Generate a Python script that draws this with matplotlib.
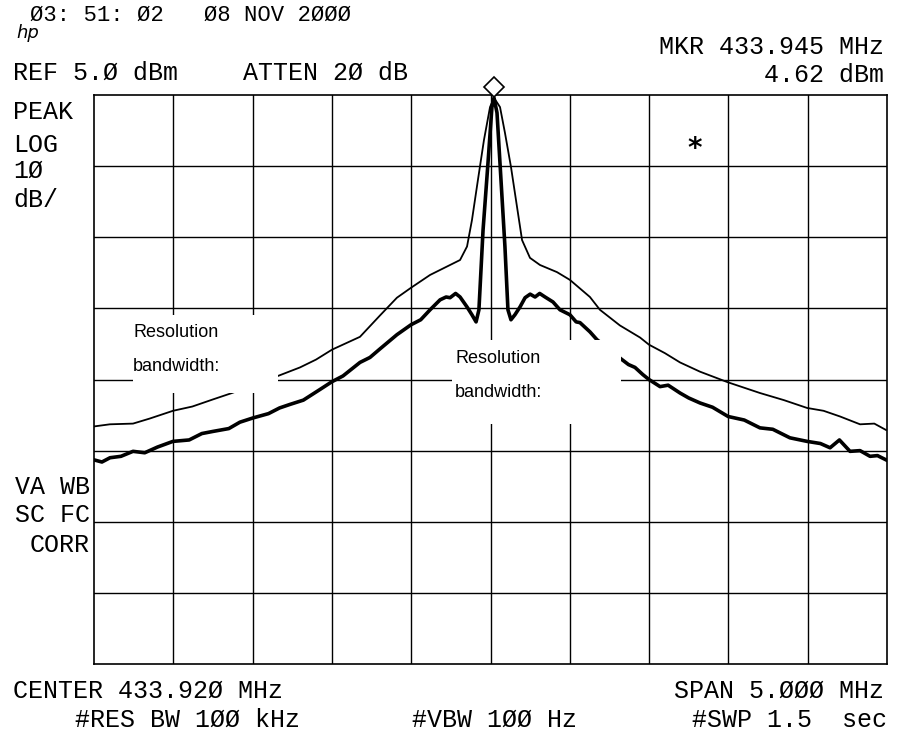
import matplotlib.pyplot as plt
import numpy as np
from matplotlib.patches import Rectangle
from matplotlib import font_manager

# Analyzer settings
center_mhz = 433.920
span_mhz = 5.0
ref_dbm = 5.0
db_per_div = 10
marker_mhz = 433.945
marker_dbm = 4.62

# Thin trace (wide resolution bandwidth), offset from center in MHz / level in dBm
wide_offset = [-2.500, -2.400, -2.254, -2.150, -2.002, -1.880, -1.750, -1.630, -1.340, -1.201,
               -1.100, -0.999, -0.823, -0.697, -0.590, -0.501, -0.381, -0.255, -0.192, -0.148,
               -0.117, -0.079, -0.041, -0.003, 0.022, 0.060, 0.091, 0.129, 0.167, 0.199,
               0.249, 0.312, 0.419, 0.501, 0.627, 0.690, 0.816, 0.943, 0.999, 1.100,
               1.195, 1.321, 1.498, 1.699, 1.850, 1.996, 2.100, 2.204, 2.330, 2.420, 2.494]
wide_level = [-41.6, -41.3, -41.2, -40.5, -39.4, -38.8, -37.8, -36.9, -34.5, -33.3,
              -32.2, -30.8, -29.0, -26.0, -23.5, -22.1, -20.3, -18.9, -18.2, -16.3,
              -12.6, -6.9, -1.3, 3.3, 4.6, 3.3, -0.3, -5.1, -10.7, -15.4,
              -17.9, -18.9, -19.9, -21.0, -23.4, -25.2, -27.4, -29.1, -30.1, -31.3,
              -32.6, -33.9, -35.4, -36.9, -37.9, -39.0, -39.4, -40.2, -41.3, -41.2, -42.1]

# Thick trace (narrow resolution bandwidth)
narrow_offset = [-2.500, -2.450, -2.399, -2.330, -2.254, -2.180, -2.100, -2.002, -1.900, -1.820,
                 -1.750, -1.650, -1.580, -1.497, -1.400, -1.330, -1.264, -1.180, -1.075, -0.999,
                 -0.930, -0.823, -0.760, -0.697, -0.590, -0.501, -0.440, -0.381, -0.318, -0.280,
                 -0.255, -0.220, -0.192, -0.148, -0.117, -0.091, -0.073, -0.047, -0.016, 0.009,
                 0.022, 0.041, 0.066, 0.091, 0.110, 0.129, 0.154, 0.186, 0.218, 0.250,
                 0.281, 0.310, 0.344, 0.394, 0.438, 0.501, 0.540, 0.564, 0.627, 0.671,
                 0.823, 0.870, 0.911, 0.960, 0.999, 1.069, 1.120, 1.195, 1.250, 1.321,
                 1.400, 1.498, 1.600, 1.699, 1.780, 1.888, 1.996, 2.080, 2.141, 2.200,
                 2.267, 2.330, 2.393, 2.440, 2.494]
narrow_level = [-46.3, -46.6, -46.0, -45.8, -45.1, -45.3, -44.5, -43.7, -43.5, -42.6,
                -42.3, -41.9, -41.0, -40.4, -39.8, -39.0, -38.5, -37.9, -36.4, -35.3,
                -34.5, -32.6, -31.9, -30.7, -28.7, -27.3, -26.6, -25.2, -23.8, -23.4,
                -23.5, -22.9, -23.4, -24.8, -25.9, -26.9, -25.2, -14.0, -4.6, 3.3,
                4.6, 2.5, -6.9, -16.3, -25.2, -26.6, -25.9, -24.8, -23.5, -23.0,
                -23.4, -22.9, -23.4, -24.1, -25.2, -25.9, -26.9, -27.0, -28.3, -29.4,
                -32.1, -32.9, -33.3, -34.3, -35.0, -36.0, -35.8, -36.9, -37.6, -38.3,
                -38.9, -40.2, -40.7, -41.8, -42.0, -43.2, -43.7, -44.0, -44.6, -43.5,
                -45.1, -45.0, -45.8, -45.7, -46.3]

# Screen annotations: text, x px, y px, alignment, size
header_texts = [
    ("Ø3: 51: Ø2   Ø8 NOV 2ØØØ", 30, 15, "left", 16),
    ("REF 5.Ø dBm", 13, 73, "left", 18),
    ("ATTEN 2Ø dB", 243, 73, "left", 18),
    ("MKR 433.945 MHz", 884, 47, "right", 18),
    ("4.62 dBm", 884, 75, "right", 18),
    ("PEAK", 13, 112, "left", 18),
    ("LOG", 13, 145, "left", 18),
    ("1Ø", 13, 171, "left", 18),
    ("dB/", 13, 200, "left", 18),
    ("VA WB", 90, 487, "right", 18),
    ("SC FC", 90, 515, "right", 18),
    ("CORR", 90, 545, "right", 18),
    ("CENTER 433.92Ø MHz", 13, 691, "left", 18),
    ("#RES BW 1ØØ kHz", 75, 720, "left", 18),
    ("#VBW 1ØØ Hz", 412, 720, "left", 18),
    ("SPAN 5.ØØØ MHz", 884, 691, "right", 18),
    ("#SWP 1.5  sec", 887, 720, "right", 18),
]

installed = {f.name for f in font_manager.fontManager.ttflist}
label_font = "Liberation Sans Narrow" if "Liberation Sans Narrow" in installed else "Liberation Sans"
label_size = 15 if label_font == "Liberation Sans Narrow" else 13

W, H = 912, 738
fig = plt.figure(figsize=(W / 100, H / 100), dpi=100)
ax = fig.add_axes([94 / W, (H - 664) / H, 793 / W, 569 / H])

f_lo = center_mhz - span_mhz / 2
f_hi = center_mhz + span_mhz / 2
bottom = ref_dbm - 8 * db_per_div
ax.set_xlim(f_lo, f_hi)
ax.set_ylim(bottom, ref_dbm)
ax.set_xticks([])
ax.set_yticks([])
for s in ax.spines.values():
    s.set_linewidth(1.2)
    s.set_color("black")

# graticule
for i in range(1, 10):
    ax.axvline(f_lo + i * span_mhz / 10, color="black", lw=1.0, zorder=1)
for j in range(1, 8):
    ax.axhline(bottom + j * db_per_div, color="black", lw=1.0, zorder=1)

ax.plot(center_mhz + np.array(wide_offset), wide_level, color="black", lw=1.3, zorder=3)
ax.plot(center_mhz + np.array(narrow_offset), narrow_level, color="black", lw=2.6,
        solid_joinstyle="round", zorder=3)

# marker diamond above the peak
ax.plot(marker_mhz, marker_dbm + 1.5, marker="D", ms=10, mfc="white", mec="black",
        mew=1.2, clip_on=False, zorder=6)

# white label boxes that mask the traces
ax.add_patch(Rectangle((431.666, -36.85), 0.914, 10.95, facecolor="white",
                       edgecolor="none", zorder=4))
ax.add_patch(Rectangle((433.677, -41.2), 1.066, 11.8, facecolor="white",
                       edgecolor="none", zorder=4))
for x, y, txt in [(431.666, -28.4, "Resolution"), (431.666, -33.2, "bandwidth:"),
                  (433.698, -32.0, "Resolution"), (433.698, -36.8, "bandwidth:")]:
    ax.text(x, y, txt, fontsize=label_size, family=label_font,
            va="center", ha="left", zorder=5)

for txt, x, y, ha, size in header_texts:
    fig.text(x / W, 1 - y / H, txt, ha=ha, va="center", fontsize=size,
             family=["Liberation Mono", "DejaVu Sans Mono"])

# hp logo and the asterisk flag
fig.text(16 / W, 1 - 33 / H, "hp", fontsize=13, style="italic", family="DejaVu Sans",
         va="center", ha="left")
fig.text(695 / W, 1 - 149 / H, "*", fontsize=20, family="DejaVu Sans", fontweight="bold",
         va="center", ha="center")

fig.savefig("out.png", dpi=100, facecolor="white")
